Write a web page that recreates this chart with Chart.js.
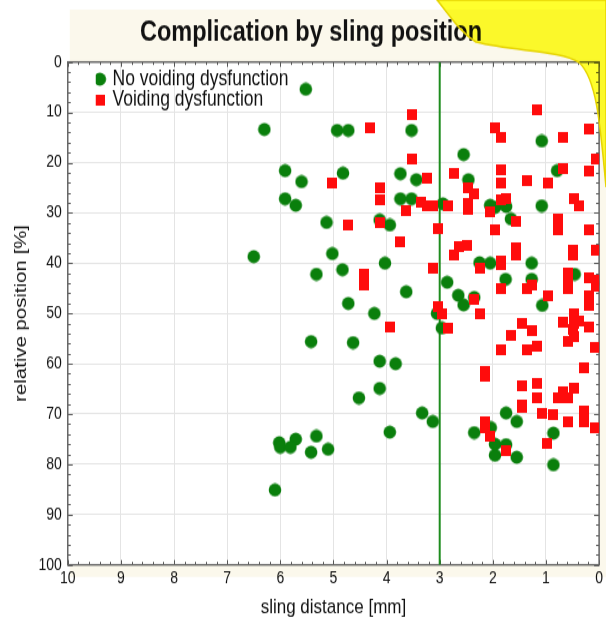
<!DOCTYPE html>
<html>
<head>
<meta charset="utf-8">
<script src="https://cdn.jsdelivr.net/npm/chart.js@4"></script>
<style>
  html, body { margin: 0; padding: 0; background: #fff; overflow: hidden; }
  #wrap { width: 606px; height: 618px; }
  /* the source figure is stretched vertically by about 1.2 */
  #slingChart { display: block; transform: scale(1, 1.2); transform-origin: 0 0; }
</style>
</head>
<body>
<div id="wrap"><canvas id="slingChart" width="606" height="515"></canvas></div>
<script>
// sling distance [mm] and relative position [%]
var noVoidX = [5.52, 6.30, 4.93, 4.72, 3.53, 1.08, 2.55, 5.91, 4.82, 3.74, 0.79, 5.60, 3.44, 2.46,
    5.91, 3.74, 3.53, 5.71, 2.94, 2.05, 1.96, 1.75, 1.08, 5.13, 4.13, 3.94, 1.66, 5.02, 6.50,
    4.03, 4.83, 5.32, 2.25, 2.05, 1.27, 0.46, 2.86, 1.76, 1.27, 3.63, 2.65, 2.35, 4.72, 2.55,
    1.07, 4.23, 3.05, 2.96, 4.63, 5.42, 4.13, 3.83, 4.13, 4.52, 3.33, 1.75, 3.13, 1.55, 3.94,
    2.35, 2.04, 0.86, 5.32, 5.71, 6.02, 6.00, 5.81, 5.42, 5.10, 1.96, 1.75, 1.96, 1.55, 0.86, 6.10];
var noVoidY = [5.4, 13.4, 13.6, 13.6, 13.6, 15.7, 18.4, 21.6, 22.1, 22.2, 21.6, 23.8, 23.4, 23.4,
    27.2, 27.2, 27.2, 28.5, 28.2, 28.5, 28.9, 28.7, 28.6, 31.9, 31.4, 32.4, 31.2, 38.1, 38.7,
    40.0, 41.3, 42.2, 39.9, 40.0, 40.0, 42.2, 43.8, 43.2, 43.2, 45.7, 46.4, 46.8, 48.0, 48.3,
    48.4, 50.0, 50.0, 52.9, 55.8, 55.6, 59.5, 60.0, 64.9, 66.8, 69.8, 69.8, 71.5, 71.5, 73.6,
    73.7, 72.7, 73.8, 74.4, 75.0, 75.7, 76.6, 76.6, 77.6, 77.0, 76.0, 76.1, 78.2, 78.6, 80.1, 85.1];

var voidX = [1.16, 3.53, 4.32, 1.96, 0.19, 1.85, 0.68, 3.53, 0.06, 1.85, 0.68, 0.19, 2.74, 3.24,
    5.02, 1.36, 1.85, 0.97, 4.13, 2.46, 2.35, 4.13, 3.35, 3.24, 3.13, 2.85, 2.46, 2.46, 1.85,
    1.75, 0.47, 0.38, 3.63, 2.05, 1.56, 0.77, 4.13, 4.72, 3.04, 1.96, 0.77, 0.19, 3.74, 2.63,
    2.49, 2.74, 1.56, 1.56, 0.49, 0.49, 0.06, 1.85, 1.85, 2.25, 3.13, 4.43, 4.43, 0.58, 0.58,
    0.58, 0.19, 0.06, 0.06, 1.27, 1.36, 1.85, 0.97, 0.19, 0.19, 2.35, 3.04, 2.95, 2.25, 0.47,
    2.85, 3.94, 1.46, 0.68, 0.47, 0.38, 0.49, 0.19, 1.66, 1.27, 0.47, 0.58, 1.85, 1.36, 1.16,
    0.08, 0.28, 2.14, 2.14, 1.46, 1.16, 0.47, 0.68, 1.16, 0.77, 0.58, 1.46, 1.46, 1.07, 0.86,
    0.28, 2.14, 2.14, 0.58, 0.28, 0.08, 2.05, 0.98, 1.75];
var voidY = [9.4, 10.4, 13.1, 13.0, 13.4, 15.1, 15.0, 19.4, 19.4, 21.4, 21.2, 21.6, 22.2, 23.0,
    24.1, 23.6, 24.1, 24.1, 25.0, 24.9, 26.2, 27.3, 27.9, 28.6, 28.6, 28.6, 28.2, 29.2, 27.5,
    27.2, 27.2, 28.6, 29.5, 29.7, 31.7, 31.2, 31.9, 32.4, 33.2, 33.3, 33.3, 33.3, 35.7, 36.7,
    36.4, 38.4, 36.9, 38.4, 37.5, 38.4, 37.5, 39.5, 40.3, 40.9, 40.9, 42.3, 44.3, 41.9, 43.2,
    45.0, 42.8, 43.5, 44.5, 44.4, 45.0, 45.0, 46.6, 46.6, 48.5, 47.2, 48.6, 50.0, 50.0, 50.1,
    52.9, 52.6, 51.9, 51.7, 51.9, 51.6, 53.2, 52.6, 54.4, 53.5, 54.6, 55.5, 57.2, 57.2, 56.6,
    56.7, 60.7, 61.5, 62.5, 64.5, 64.0, 64.8, 65.6, 66.8, 66.8, 66.8, 68.1, 68.8, 69.8, 70.1,
    69.3, 71.5, 72.7, 71.5, 71.5, 72.8, 74.5, 75.8, 77.3];

var cutoffMm = 3;
var xTicks = [10, 9, 8, 7, 6, 5, 4, 3, 2, 1, 0];
var yTicks = [0, 10, 20, 30, 40, 50, 60, 70, 80, 90, 100];

function toPoints(xs, ys) {
    return xs.map(function (x, i) { return {x: x, y: ys[i]}; });
}

var FONT = 'Liberation Sans, Arial, sans-serif';
var SQUASH = 1.2;

// marker sprites, flattened so they look round / square after the vertical stretch
function dotSprite(color) {
    var cv = document.createElement('canvas');
    cv.width = 14; cv.height = 12;
    var g = cv.getContext('2d');
    g.fillStyle = color;
    g.beginPath();
    g.ellipse(7, 6, 6.3, 6.3 / SQUASH * 1.04, 0, 0, Math.PI * 2);
    g.fill();
    return cv;
}
function squareSprite(color) {
    var cv = document.createElement('canvas');
    cv.width = 10; cv.height = 9;
    var g = cv.getContext('2d');
    g.fillStyle = color;
    g.fillRect(0, 0, 10, 9);
    return cv;
}

// cream panel, white plot area, frame and small inside ticks
var framePlugin = {
    id: 'frame',
    beforeDraw: function (chart) {
        var c = chart.ctx, a = chart.chartArea;
        c.save();
        c.fillStyle = '#ffffff';
        c.fillRect(0, 0, chart.width, chart.height);
        c.fillStyle = '#fbf8ec';
        c.fillRect(a.left + 2, 8, chart.width - a.left - 2, a.bottom + 10 - 8);
        c.fillStyle = '#ffffff';
        c.fillRect(a.left, a.top, a.right - a.left, a.bottom - a.top);
        c.restore();
    },
    beforeDatasetsDraw: function (chart) {
        var c = chart.ctx, a = chart.chartArea;
        var xs = chart.scales.x, ys = chart.scales.y;
        c.save();
        c.strokeStyle = '#555';
        c.lineWidth = 1;
        c.beginPath();
        for (var v = 0; v <= 10.001; v += 0.2) {
            var px = Math.round(xs.getPixelForValue(v)) + 0.5;
            var len = Math.abs(v - Math.round(v)) < 0.01 ? 4 : 2.5;
            c.moveTo(px, a.bottom); c.lineTo(px, a.bottom - len);
            c.moveTo(px, a.top); c.lineTo(px, a.top + len);
        }
        for (var w = 0; w <= 100.01; w += 2) {
            var py = Math.round(ys.getPixelForValue(w)) + 0.5;
            var l2 = w % 10 === 0 ? 5 : 3;
            c.moveTo(a.left, py); c.lineTo(a.left + l2, py);
            c.moveTo(a.right, py); c.lineTo(a.right - l2, py);
        }
        c.stroke();
        c.strokeStyle = '#666';
        c.lineWidth = 1.5;
        c.strokeRect(a.left, a.top, a.right - a.left, a.bottom - a.top);
        c.restore();
    },
    afterLayout: function (chart) {
        // keep the legend in the top left corner of the plot
        var lg = chart.legend, a = chart.chartArea;
        if (lg) {
            lg.left = a.left + 28;
            lg.right = lg.left + lg.width;
            lg.top = a.top + 5.5;
            lg.bottom = lg.top + lg.height;
        }
    },
    afterDraw: function (chart) {
        // yellow highlighter blob in the top right corner
        var c = chart.ctx, W = chart.width;
        c.save();
        c.beginPath();
        c.moveTo(437, 0);
        c.bezierCurveTo(450, 13, 460, 27, 476, 35);
        c.bezierCurveTo(515, 43, 560, 42, 579, 52);
        c.bezierCurveTo(596, 65, 600, 100, W, 156);
        c.lineTo(W, 0);
        c.closePath();
        c.globalCompositeOperation = 'multiply';
        c.fillStyle = 'rgb(255, 255, 45)';
        c.fill();
        c.globalCompositeOperation = 'source-over';
        c.strokeStyle = '#e6d400';
        c.lineWidth = 1.5;
        c.stroke();
        c.restore();
    }
};

var ctx = document.getElementById('slingChart').getContext('2d');
var slingChart = new Chart(ctx, {
    type: 'scatter',
    data: {
        datasets: [{
            label: 'No voiding dysfunction',
            data: toPoints(noVoidX, noVoidY),
            backgroundColor: '#0a7f0c',
            borderColor: '#0a7f0c',
            pointStyle: dotSprite('#0a7f0c'),
            order: 2
        }, {
            label: 'Voiding dysfunction',
            data: toPoints(voidX, voidY),
            backgroundColor: '#ff0c0c',
            borderColor: '#ff0c0c',
            pointStyle: squareSprite('#ff0c0c'),
            order: 1
        }, {
            type: 'line',
            label: 'cutoff',
            data: [{x: cutoffMm, y: yTicks[0]}, {x: cutoffMm, y: yTicks[yTicks.length - 1]}],
            borderColor: '#1e8c1e',
            borderWidth: 2,
            pointRadius: 0,
            fill: false,
            order: 3
        }]
    },
    options: {
        responsive: false,
        animation: false,
        layout: {
            padding: {left: 11, right: -5, top: 0, bottom: 0}
        },
        plugins: {
            title: {
                display: true,
                text: 'Complication by sling position',
                color: '#111',
                font: {family: FONT, size: 23.5, weight: 'bold', lineHeight: 1.2},
                padding: {top: 13.5, bottom: 10}
            },
            legend: {
                display: true,
                position: 'chartArea',
                align: 'start',
                labels: {
                    usePointStyle: true,
                    boxWidth: 8,
                    boxHeight: 8,
                    padding: 0,
                    color: '#111',
                    font: {family: FONT, size: 17.5},
                    filter: function (item) { return item.text !== 'cutoff'; },
                    sort: function (a, b) { return a.datasetIndex - b.datasetIndex; }
                }
            },
            tooltip: {enabled: false}
        },
        scales: {
            x: {
                type: 'linear',
                reverse: true,
                min: xTicks[xTicks.length - 1],
                max: xTicks[0],
                afterBuildTicks: function (s) { s.ticks = xTicks.map(function (v) { return {value: v}; }); },
                ticks: {
                    color: '#111',
                    font: {family: FONT, size: 14},
                    padding: 3,
                    maxRotation: 0
                },
                grid: {color: '#e4e4e4', drawTicks: false},
                border: {display: false},
                title: {
                    display: true,
                    text: 'sling distance [mm]',
                    color: '#111',
                    font: {family: FONT, size: 17, lineHeight: 1.0},
                    padding: {top: 4.5, bottom: 0}
                }
            },
            y: {
                type: 'linear',
                reverse: true,
                min: yTicks[0],
                max: yTicks[yTicks.length - 1],
                afterBuildTicks: function (s) { s.ticks = yTicks.map(function (v) { return {value: v}; }); },
                ticks: {
                    color: '#111',
                    font: {family: FONT, size: 14},
                    padding: 6
                },
                grid: {color: '#e4e4e4', drawTicks: false},
                border: {display: false},
                title: {
                    display: true,
                    text: 'relative position [%]',
                    color: '#111',
                    font: {family: FONT, size: 17, lineHeight: 1.2},
                    padding: {top: 0, bottom: 1}
                }
            }
        }
    },
    plugins: [framePlugin]
});
</script>
</body>
</html>
